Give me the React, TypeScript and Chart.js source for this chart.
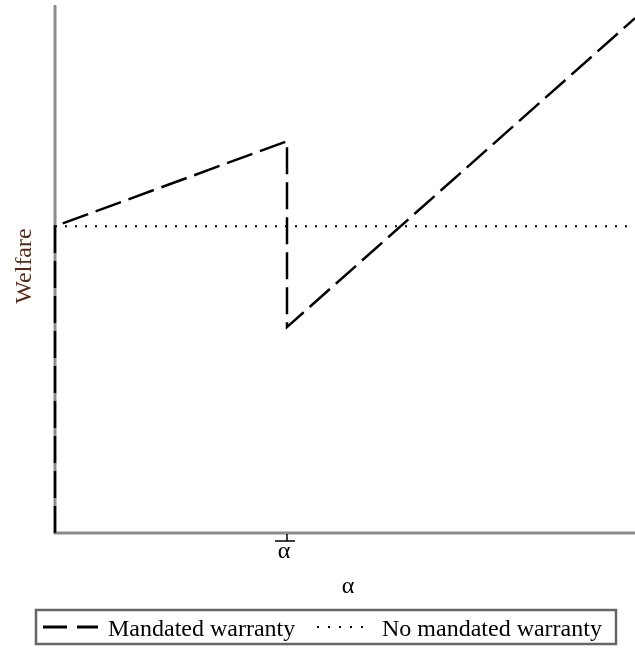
import React, { useEffect, useRef } from "react";
import { Chart, registerables } from "chart.js";

Chart.register(...registerables);

// ---- data ----
const mandatedAlpha = [0, 0, 0.4, 0.4, 1];
const mandatedWelfare = [0, 58.1, 74.2, 39.0, 97.5];
const noMandateAlpha = [0, 1];
const noMandateWelfare = [58.1, 58.1];
const alphaBarValue = 0.4;
const alphaBarLabel = "α";
const xTitle = "α";
const yTitle = "Welfare";
const seriesNames = ["Mandated warranty", "No mandated warranty"];

const FONT = '24px "Liberation Serif", "Times New Roman", serif';
const MANDATED_DASH = [27, 8];
const DOT_DASH = [2, 8];

const decorPlugin = {
  id: "decor",
  beforeDatasetsDraw(chart: any) {
    const { ctx, chartArea: a, scales } = chart;
    const x = scales.x;
    ctx.save();
    // axes
    ctx.strokeStyle = "#8c8c8c";
    ctx.lineWidth = 3;
    ctx.setLineDash([]);
    ctx.beginPath();
    ctx.moveTo(a.left, a.top);
    ctx.lineTo(a.left, a.bottom);
    ctx.lineTo(a.right, a.bottom);
    ctx.stroke();

    // tick with overline at alpha-bar
    const tx = Math.round(x.getPixelForValue(alphaBarValue));
    ctx.strokeStyle = "#000";
    ctx.lineWidth = 1.5;
    ctx.beginPath();
    ctx.moveTo(tx, a.bottom + 1);
    ctx.lineTo(tx, a.bottom + 8);
    ctx.moveTo(tx - 12, a.bottom + 8);
    ctx.lineTo(tx + 8, a.bottom + 8);
    ctx.stroke();

    ctx.fillStyle = "#000";
    ctx.font = FONT;
    ctx.textAlign = "center";
    ctx.textBaseline = "alphabetic";
    ctx.fillText(alphaBarLabel, tx - 3, a.bottom + 25);

    // x title
    ctx.fillText(xTitle, (a.left + a.right) / 2 + 3, a.bottom + 60);

    // y title
    ctx.save();
    ctx.translate(31, (a.top + a.bottom) / 2 - 3);
    ctx.rotate(-Math.PI / 2);
    ctx.fillStyle = "#5a2a18";
    ctx.fillText(yTitle, 0, 0);
    ctx.restore();
    ctx.restore();
  },
  afterDraw(chart: any) {
    const { ctx } = chart;
    ctx.save();
    // legend box
    ctx.strokeStyle = "#666666";
    ctx.lineWidth = 2.5;
    ctx.setLineDash([]);
    ctx.strokeRect(36, 610, 580, 34);

    const ly = 627;
    ctx.strokeStyle = "#000";
    ctx.lineWidth = 3;
    ctx.setLineDash([24, 10]);
    ctx.beginPath();
    ctx.moveTo(43, ly);
    ctx.lineTo(98, ly);
    ctx.stroke();

    ctx.lineWidth = 2;
    ctx.setLineDash([2, 9]);
    ctx.beginPath();
    ctx.moveTo(317, ly);
    ctx.lineTo(366, ly);
    ctx.stroke();

    ctx.fillStyle = "#000";
    ctx.font = FONT;
    ctx.textAlign = "left";
    ctx.textBaseline = "alphabetic";
    ctx.fillText(seriesNames[0], 108, 636);
    ctx.fillText(seriesNames[1], 382, 636);
    ctx.restore();
  },
};

export default function App() {
  const ref = useRef<HTMLCanvasElement | null>(null);

  useEffect(() => {
    document.body.style.margin = "0";
    if (!ref.current) return;
    const chart = new Chart(ref.current, {
      type: "scatter",
      data: {
        datasets: [
          {
            label: seriesNames[0],
            data: mandatedAlpha.map((a, i) => ({ x: a, y: mandatedWelfare[i] })),
            showLine: true,
            borderColor: "#000",
            borderWidth: 2.5,
            borderDash: MANDATED_DASH,
            pointRadius: 0,
            tension: 0,
            clip: false as any,
          },
          {
            label: seriesNames[1],
            data: noMandateAlpha.map((a, i) => ({ x: a, y: noMandateWelfare[i] })),
            showLine: true,
            borderColor: "#000",
            borderWidth: 2,
            borderDash: DOT_DASH,
            pointRadius: 0,
            tension: 0,
            clip: false as any,
          },
        ],
      },
      options: {
        animation: false,
        responsive: false,
        devicePixelRatio: 1,
        layout: { padding: { left: 55, right: 0, top: 5, bottom: 115 } },
        plugins: { legend: { display: false }, tooltip: { enabled: false } },
        scales: {
          x: { type: "linear", min: 0, max: 1, display: false },
          y: { type: "linear", min: 0, max: 100, display: false },
        },
      },
      plugins: [decorPlugin],
    });
    return () => chart.destroy();
  }, []);

  return (
    <div style={{ width: 635, height: 648, background: "#fff" }}>
      <canvas ref={ref} width={635} height={648} style={{ width: 635, height: 648, display: "block" }} />
    </div>
  );
}
